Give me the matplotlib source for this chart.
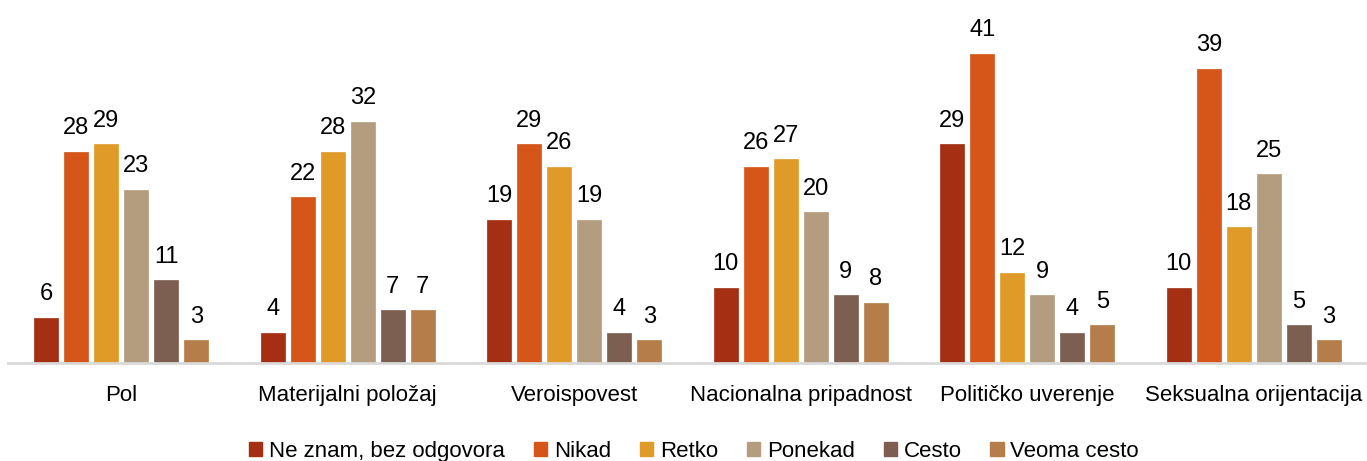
import matplotlib
matplotlib.use("Agg")
import matplotlib.pyplot as plt
import numpy as np
from matplotlib.patches import Patch

plt.rcParams['font.family'] = ['Liberation Sans', 'DejaVu Sans']

categories = ["Pol", "Materijalni položaj", "Veroispovest",
              "Nacionalna pripadnost", "Političko uverenje", "Seksualna orijentacija"]
series_names = ["Ne znam, bez odgovora", "Nikad", "Retko", "Ponekad", "Cesto", "Veoma cesto"]
ne_znam = [6, 4, 19, 10, 29, 10]
nikad = [28, 22, 29, 26, 41, 39]
retko = [29, 28, 26, 27, 12, 18]
ponekad = [23, 32, 19, 20, 9, 25]
cesto = [11, 7, 4, 9, 4, 5]
veoma_cesto = [3, 7, 3, 8, 5, 3]
series_values = [ne_znam, nikad, retko, ponekad, cesto, veoma_cesto]
colors = ["#A52F12", "#D55618", "#E09A28", "#B39D7E", "#7D5F52", "#B47D49"]

W, H = 1367, 461
fig = plt.figure(figsize=(W / 100, H / 100), dpi=100)
ax = fig.add_axes([8 / W, (H - 363) / H, (1367 - 8) / W, 363 / H])

x = np.arange(len(categories))
pitch = 30 / 226.5
bw = 24 / 226.5
n = len(series_values)
for i, (vals, col) in enumerate(zip(series_values, colors)):
    off = (i - (n - 1) / 2) * pitch
    bars = ax.bar(x + off, vals, width=bw, color=col, edgecolor=col, linewidth=0.5)
    for b, v in zip(bars, vals):
        ax.annotate(str(v), (b.get_x() + b.get_width() / 2, v),
                    xytext=(0, 9), textcoords="offset points",
                    ha="center", va="bottom", fontsize=17, color="black")

ax.set_xlim(-0.5, len(categories) - 0.5)
ax.set_ylim(0, 363 / 7.54)
ax.set_xticks(x)
ax.set_xticklabels(categories, fontsize=16)
ax.tick_params(axis="x", length=0, pad=16)
ax.set_yticks([])
for s in ["top", "right", "left"]:
    ax.spines[s].set_visible(False)
ax.spines["bottom"].set_color("#D9D9D9")
ax.spines["bottom"].set_linewidth(2)
ax.patch.set_alpha(0)

handles = [Patch(facecolor=c, edgecolor=c) for c in colors]
fig.legend(handles, series_names, loc="center", bbox_to_anchor=(694 / W, 10 / H),
           ncol=6, frameon=False, fontsize=16, handlelength=0.6, handleheight=0.6,
           handletextpad=0.3, columnspacing=1.3, borderaxespad=0, borderpad=0)

fig.savefig("out.png", dpi=100, facecolor="white")
